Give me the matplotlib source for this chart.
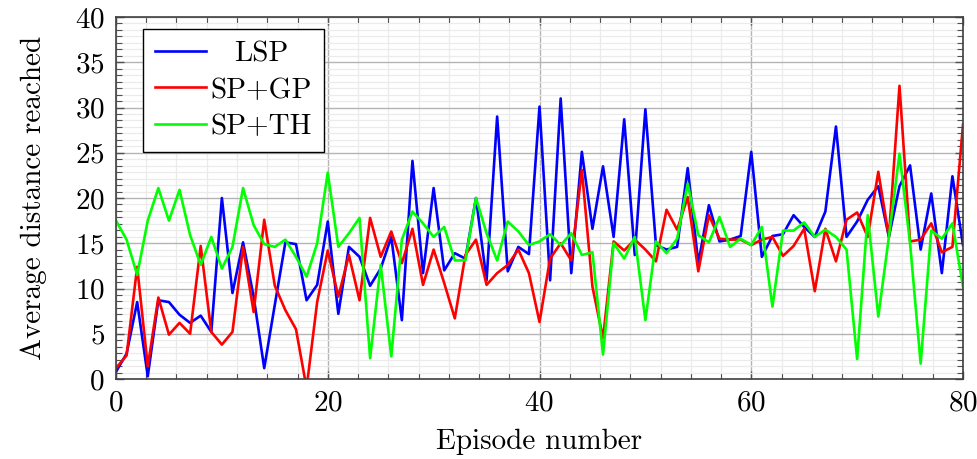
import matplotlib
matplotlib.use("Agg")
import matplotlib.pyplot as plt
from matplotlib.ticker import MultipleLocator
import numpy as np

episodes = list(range(0, 81))

lsp = [0.8, 2.8, 8.5, 0.3, 8.7, 8.5, 7.1, 6.2, 7.0, 5.2,
       20.0, 9.5, 15.1, 9.1, 1.2, 8.2, 15.1, 14.9, 8.7, 10.4,
       17.4, 7.2, 14.6, 13.5, 10.3, 12.2, 15.7, 6.5, 24.1, 11.7,
       21.1, 12.0, 13.9, 13.3, 20.0, 10.9, 29.0, 11.9, 14.6, 13.8,
       30.1, 10.9, 31.0, 11.7, 25.1, 16.6, 23.5, 15.7, 28.7, 13.7,
       29.8, 14.8, 14.3, 14.6, 23.3, 12.8, 19.2, 15.2, 15.4, 15.8,
       25.1, 13.5, 15.8, 16.0, 18.1, 16.8, 15.7, 18.5, 27.9, 15.7,
       17.4, 19.8, 21.3, 15.7, 21.3, 23.6, 14.3, 20.5, 11.7, 22.4,
       14.8]

sp_gp = [1.2, 2.6, 12.4, 1.4, 9.0, 4.9, 6.2, 5.0, 14.7, 5.2,
         3.8, 5.2, 14.6, 7.4, 17.6, 10.3, 7.6, 5.5, -1.0, 8.5,
         14.2, 9.1, 13.7, 8.7, 17.8, 13.5, 16.3, 12.8, 16.6, 10.4,
         14.3, 10.6, 6.7, 13.7, 15.4, 10.4, 11.7, 12.6, 14.3, 11.7,
         6.3, 13.3, 15.0, 13.1, 23.1, 10.2, 4.5, 15.2, 14.2, 15.4,
         14.3, 13.0, 18.7, 16.5, 20.1, 11.9, 18.1, 15.5, 15.4, 15.4,
         14.8, 15.4, 15.7, 13.6, 14.7, 16.6, 9.7, 16.6, 13.0, 17.6,
         18.4, 15.7, 22.9, 15.7, 32.4, 15.2, 15.4, 17.2, 14.0, 14.6,
         28.1]

sp_th = [17.5, 15.4, 11.5, 17.5, 21.1, 17.5, 20.9, 15.9, 12.6, 15.7,
         12.2, 14.6, 21.1, 17.0, 14.9, 14.6, 15.4, 13.5, 11.3, 15.0,
         22.8, 14.6, 16.1, 17.8, 2.3, 12.6, 2.5, 15.4, 18.5, 17.2,
         15.7, 16.8, 13.1, 13.1, 20.0, 16.1, 13.1, 17.4, 16.3, 14.8,
         15.2, 16.0, 14.8, 16.1, 13.7, 14.0, 2.7, 15.0, 13.3, 15.7,
         6.5, 15.2, 13.9, 15.5, 21.6, 15.9, 15.1, 17.9, 14.6, 15.5,
         14.8, 16.8, 8.0, 16.4, 16.4, 17.3, 15.7, 16.5, 15.7, 14.3,
         2.2, 18.1, 6.9, 15.7, 24.9, 15.0, 1.7, 16.4, 15.5, 17.2,
         10.2]

series_names = ["LSP", "SP+GP", "SP+TH"]
series_colors = ["#0000ff", "#ff0000", "#00ff00"]

plt.rcParams['font.family'] = ['cmr10', 'DejaVu Serif']
plt.rcParams['axes.formatter.use_mathtext'] = True
FS = 21

fig = plt.figure(figsize=(9.78, 4.59), dpi=100)
ax = fig.add_axes([116/978, 1-379/459, (963-116)/978, (379-17)/459])

for data, name, col in zip([lsp, sp_gp, sp_th], series_names, series_colors):
    ax.plot(episodes, data, color=col, lw=1.9, label=name)

ax.set_xlim(0, 80)
ax.set_ylim(0, 40)
ax.xaxis.set_major_locator(MultipleLocator(20))
ax.xaxis.set_minor_locator(MultipleLocator(20/7))
ax.yaxis.set_major_locator(MultipleLocator(5))
ax.yaxis.set_minor_locator(MultipleLocator(5/7))

ax.grid(which='major', color='#b4b4b4', lw=1.0)
ax.grid(which='minor', color='#ebebeb', lw=0.9)
ax.set_axisbelow(True)

ax.tick_params(which='both', direction='in', top=True, right=True,
               colors='#505050', labelcolor='black', labelsize=FS)
ax.tick_params(which='major', length=6, width=1.0, pad=8)
ax.tick_params(which='minor', length=4, width=0.8)
for s in ax.spines.values():
    s.set_color('#404040')
    s.set_linewidth(1.2)

ax.set_xlabel("Episode number", fontsize=FS, labelpad=9)
ax.set_ylabel("Average distance reached", fontsize=FS, labelpad=20)

leg = ax.legend(loc='upper left', bbox_to_anchor=(27/847, 1-12/362),
                borderaxespad=0, fontsize=FS, fancybox=False,
                edgecolor='black', framealpha=1, handlelength=1.75,
                handletextpad=0.15, labelspacing=0.33, borderpad=0.42)
leg.get_frame().set_linewidth(1.0)

fig.canvas.draw()
r = fig.canvas.get_renderer()
texts = leg.get_texts()
ws = [t.get_window_extent(r).width for t in texts]
mw = max(ws)
for t, w in zip(texts, ws):
    t.set_position(((mw - w) / 2, 0))

fig.savefig("out.png", dpi=100)
